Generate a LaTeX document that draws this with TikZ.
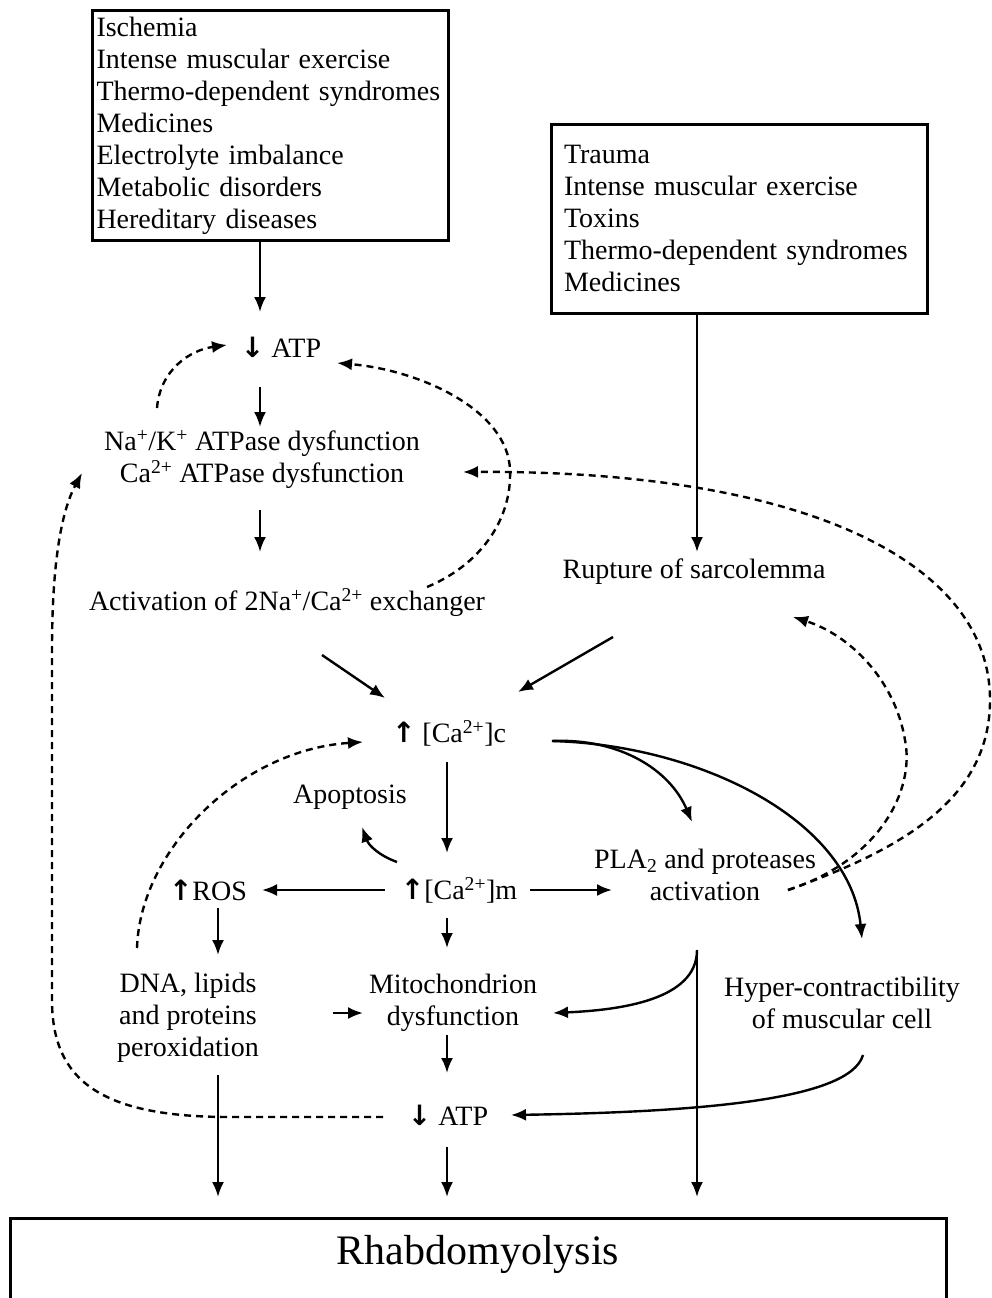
\documentclass[tikz,border=0pt]{standalone}
\usepackage{fontspec}
\setmainfont{Liberation Serif}
\newfontfamily\arrowfont{DejaVu Sans}
\usetikzlibrary{arrows.meta,calc}
\begin{document}
\begin{tikzpicture}[x=1pt,y=-1pt,->,>={Latex[length=15pt,width=12pt]},line width=2.4pt]
	\tikzstyle{cbox}=[draw,line width=3pt,outer sep=0pt,align=left,anchor=north west,font=\fontsize{28}{32}\selectfont]
	\tikzstyle{lbl}=[inner sep=0pt,align=center,font=\fontsize{28}{32}\selectfont]
	\tikzstyle{rbox}=[draw,line width=3pt,outer sep=0pt,anchor=north,minimum width=936pt,inner ysep=10pt,text height=36pt,text depth=150pt,font=\fontsize{42}{48}\selectfont]
	\tikzstyle{feedback}=[dash pattern=on 7pt off 5pt]
	\useasboundingbox (0,0) rectangle (992,1298);
	\node[cbox,text width=347pt,inner xsep=4.5pt,minimum height=229pt] (A-causes) at (92,11) {Ischemia\\Intense muscular exercise\\Thermo-dependent syndromes\\Medicines\\Electrolyte imbalance\\Metabolic disorders\\Hereditary diseases};
	\node[cbox,text width=350pt,inner xsep=13pt,minimum height=189pt] (B-causes) at (551,124) {Trauma\\Intense muscular exercise\\Toxins\\Thermo-dependent syndromes\\Medicines};
	\node[lbl] (ATP-top) at (281,347) {{\arrowfont\bfseries ↓} ATP};
	\node[lbl] (ATPase) at (262,459) {Na\textsuperscript{+}/K\textsuperscript{+} ATPase dysfunction\\Ca\textsuperscript{2+} ATPase dysfunction};
	\node[lbl] (Exchanger) at (287,603) {Activation of 2Na\textsuperscript{+}/Ca\textsuperscript{2+} exchanger};
	\node[lbl] (Rupture) at (694,572) {Rupture of sarcolemma};
	\node[lbl] (Ca-c) at (449,733) {{\arrowfont\bfseries ↑} [Ca\textsuperscript{2+}]c};
	\node[lbl] (Apoptosis) at (350,797) {Apoptosis};
	\node[lbl] (Ca-m) at (459,890) {{\arrowfont\bfseries ↑}[Ca\textsuperscript{2+}]m};
	\node[lbl] (ROS) at (208,890) {{\arrowfont\bfseries ↑}ROS};
	\node[lbl] (PLA) at (705,875) {PLA\textsubscript{2} and proteases\\activation};
	\node[lbl] (DNA) at (188,1018) {DNA, lipids\\and proteins\\peroxidation};
	\node[lbl] (Mito) at (453,1003) {Mitochondrion\\dysfunction};
	\node[lbl] (Hyper) at (842,1003) {Hyper-contractibility\\of muscular cell};
	\node[lbl] (ATP-low) at (448,1115) {{\arrowfont\bfseries ↓} ATP};
	\node[rbox] (Rhabdo) at (478,1218) {Rhabdomyolysis};
	% main pathway
	\draw ($(A-causes.south)+(-10,0)$) -- ($(ATP-top)+(-21,-35)$);
	\draw ($(B-causes.south)+(-42,0)$) -- ($(Rupture)+(3,-20)$);
	\draw ($(ATP-top)+(-21,40)$) -- ($(ATPase)+(-2,-32)$);
	\draw ($(ATPase)+(-2,51)$) -- ($(Exchanger)+(-27,-51)$);
	\draw ($(Exchanger)+(35,52)$) -- ($(Ca-c)+(-64,-35)$);
	\draw ($(Rupture)+(-81,65)$) -- ($(Ca-c)+(69,-41)$);
	\draw ($(Ca-c)+(-2,29)$) -- ($(Ca-m)+(-12,-37)$);
	\draw ($(Ca-m)+(-62,-28)$) to[bend left=25] ($(Apoptosis)+(12,30)$);
	\draw ($(Ca-m)+(-74,0)$) -- ($(ROS)+(54,0)$);
	\draw ($(Ca-m)+(71,0)$) -- ($(PLA)+(-93,15)$);
	\draw ($(Ca-m)+(-12,28)$) -- ($(Mito)+(-6,-55)$);
	\draw ($(ROS)+(10,18)$) -- ($(DNA)+(30,-63)$);
	\draw ($(DNA)+(145,-5)$) -- ($(Mito)+(-90,10)$);
	\draw ($(Mito)+(-6,32)$) -- ($(ATP-low)+(-1,-42)$);
	\draw ($(ATP-low)+(-1,32)$) -- ($(Rhabdo.north)+(-31,-21)$);
	\draw ($(DNA)+(30,57)$) -- ($(Rhabdo.north)+(-260,-21)$);
	\draw ($(Ca-c)+(103,8)$) .. controls +(68,-3) and +(-22,-52) .. ($(PLA)+(-13,-53)$);
	\draw ($(Ca-c)+(103,8)$) .. controls +(148,4) and +(-12,-119) .. ($(Hyper)+(20,-64)$);
	\draw ($(PLA)+(-8,75)$) -- ($(Rhabdo.north)+(219,-21)$);
	\draw ($(PLA)+(-8,75)$) .. controls +(0,50) and +(67,-3) .. ($(Mito)+(100,10)$);
	\draw ($(Hyper)+(21,52)$) .. controls +(-13,45) and +(189,-3) .. ($(ATP-low)+(63,0)$);
	% feedback loops
	\draw[feedback] ($(ATPase)+(-105,-51)$) .. controls +(3,-38) and +(-37,5) .. ($(ATP-top)+(-54,-2)$);
	\draw[feedback] ($(Exchanger)+(140,-16)$) .. controls +(53,-22) and +(2,50) .. ($(ATPase)+(248,11)$) .. controls +(-2,-60) and +(83,7) .. ($(ATP-top)+(56,16)$);
	\draw[feedback] ($(PLA)+(83,15)$) .. controls +(92,-30) and +(10,50) .. ($(Rupture)+(211,168)$) .. controls +(-10,-60) and +(57,18) .. ($(Rupture)+(99,45)$);
	\draw[feedback] ($(PLA)+(83,15)$) .. controls +(112,-40) and +(0,100) .. ($(PLA)+(285,-175)$) .. controls +(0,-140) and +(337,-2) .. ($(ATPase)+(201,13)$);
	\draw[feedback] ($(ATP-low)+(-65,2)$) -- ($(ATP-low)+(-218,2)$) .. controls +(-130,0) and +(0,80) .. ($(ATPase)+(-210,541)$) -- ($(ATPase)+(-210,191)$) .. controls +(0,-90) and +(-20,37) .. ($(ATPase)+(-180,14)$);
	\draw[feedback] ($(DNA)+(-51,-70)$) .. controls +(3,-98) and +(-123,8) .. ($(Ca-c)+(-86,9)$);
\end{tikzpicture}
\end{document}
